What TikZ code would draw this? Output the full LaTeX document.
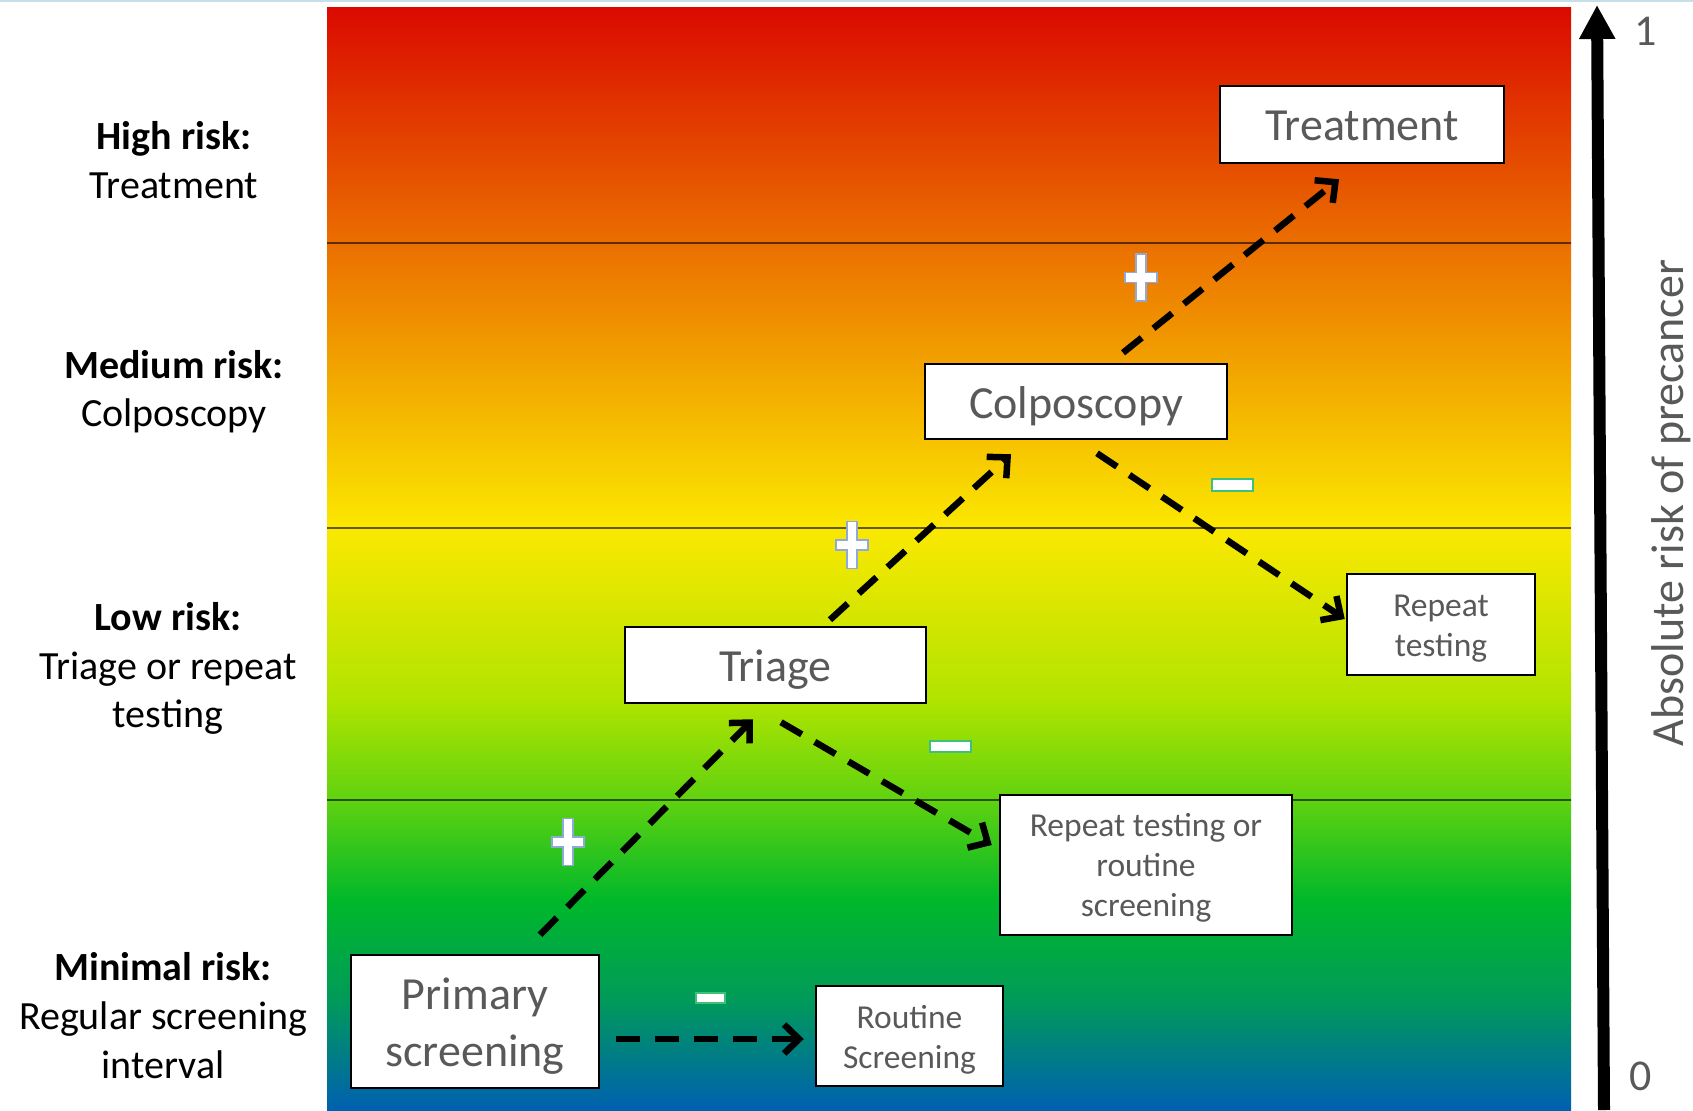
\documentclass[tikz,border=0pt]{standalone}
\usepackage{fontspec}
\setmainfont{Carlito}
\usetikzlibrary{arrows.meta,calc}
\definecolor{txtgray}{HTML}{595959}
\definecolor{plusblue}{HTML}{8FA9D8}
\definecolor{minusgreen}{HTML}{3CC07A}
\definecolor{toplineblue}{HTML}{C5E0EA}
\definecolor{g0}{HTML}{DA0A00}
\definecolor{g1}{HTML}{EB6F00}
\definecolor{g2}{HTML}{FBE800}
\definecolor{g3}{HTML}{B0E400}
\definecolor{g4}{HTML}{60D210}
\definecolor{g5}{HTML}{00B82A}
\definecolor{g6}{HTML}{009A5A}
\definecolor{g7}{HTML}{0060B0}
% lower the printed lines by #1 inside the box (extra room above them)
\newcommand{\bxtext}[2][3.5pt]{\raisebox{0pt}[\dimexpr\height+#1*2\relax][\depth]{\begin{tabular}{@{}c@{}}#2\end{tabular}}}
\begin{document}
\begin{tikzpicture}[x=1pt,y=-1pt,
  box/.style={draw=black,line width=2.5pt,fill=white,inner sep=0pt,text=txtgray},
  bigtxt/.style={font=\fontsize{46}{55}\selectfont},
  smalltxt/.style={font=\fontsize{33.5}{40}\selectfont},
  flow/.style={line width=6.5pt,dash pattern=on 24pt off 15pt,-{Straight Barb[length=15pt,width=29pt]}},
  lbl/.style={align=center,text=black,font=\fontsize{40}{48.6}\selectfont},
  sepline/.style={draw=black,opacity=0.6,line width=1.2pt},
  minussign/.style={fill=white,draw=minusgreen,line width=1.5pt},
  plussign/.pic={\draw[fill=white,draw=plusblue,line width=1.3pt]
    (-16,-5) -- (-5,-5) -- (-5,-23.5) -- (5,-23.5) -- (5,-5) -- (16,-5) -- (16,5)
    -- (5,5) -- (5,23.5) -- (-5,23.5) -- (-5,5) -- (-16,5) -- cycle;}
]
\useasboundingbox (0,0) rectangle (1693,1110);
\fill[white] (0,0) rectangle (1693,1110);
\draw[toplineblue,line width=2pt] (0,1) -- (1693,1);
% background gradient
\shade[top color=g0,bottom color=g1] (327,8) rectangle (1571,243.5);
\shade[top color=g1,bottom color=g2] (327,243) rectangle (1571,528.5);
\shade[top color=g2,bottom color=g3] (327,528) rectangle (1571,700.5);
\shade[top color=g3,bottom color=g4] (327,700) rectangle (1571,800.5);
\shade[top color=g4,bottom color=g5] (327,800) rectangle (1571,900.5);
\shade[top color=g5,bottom color=g6] (327,900) rectangle (1571,1000.5);
\shade[top color=g6,bottom color=g7] (327,1000) rectangle (1571,1110);
\draw[sepline] (327,243) -- (1571,243);
\draw[sepline] (327,528) -- (1571,528);
\draw[sepline] (327,800) -- (1571,800);
% left labels
\node[lbl] (lhigh) at (174,160) {\textbf{High risk:}\\Treatment};
\node[lbl] (lmed) at (174,391.5) {\textbf{Medium risk:}\\Colposcopy};
\node[lbl] (llow) at (168,668.5) {\textbf{Low risk:}\\Triage or repeat\\testing};
\node[lbl] (lmin) at (163,1015.5) {\textbf{Minimal risk:}\\Regular screening\\interval};
% boxes
\node[box,bigtxt,minimum width=284pt,minimum height=77pt] (treat) at (1362,124.5) {\bxtext[5.5pt]{Treatment}};
\node[box,bigtxt,minimum width=302pt,minimum height=75pt] (colp) at (1076,401.5) {\bxtext[5.5pt]{Colposcopy}};
\node[box,bigtxt,minimum width=301pt,minimum height=76pt] (triage) at (775.5,665) {\bxtext[5.5pt]{Triage}};
\node[box,smalltxt,minimum width=188pt,minimum height=101pt] (rep) at (1441,624.5) {\bxtext[3.5pt]{Repeat\\testing}};
\node[box,smalltxt,minimum width=292pt,minimum height=140pt] (reprout) at (1146,865) {\bxtext[3.5pt]{Repeat testing or\\routine\\screening}};
\node[box,font=\fontsize{46}{57}\selectfont,minimum width=248pt,minimum height=133pt] (prim) at (475,1021.5) {\bxtext[5.5pt]{Primary\\screening}};
\node[box,smalltxt,minimum width=187pt,minimum height=100pt] (rout) at (909.5,1036) {\bxtext[4.5pt]{Routine\\Screening}};
% connectors
\draw[flow] ($(prim.north)+(65,-19)$) -- ($(triage.south)+(-22.5,15)$);
\draw[flow] ($(triage.north)+(54.5,-6)$) -- ($(colp.south)+(-65,14)$);
\draw[flow] ($(colp.north)+(47,-10)$) -- ($(treat.south)+(-23,15)$);
\draw[flow] ($(triage.south)+(5.5,18)$) -- ($(reprout.west)+(-7,-20)$);
\draw[flow] ($(colp.south)+(21,13)$) -- ($(rep.west)+(-1,-5.5)$);
\draw[flow] ($(prim.east)+(16,17.5)$) -- ($(rout.west)+(-11,3)$);
% plus and minus signs
\pic at (1141,277.5) {plussign};
\pic at (852,545) {plussign};
\pic at (568,842) {plussign};
\draw[minussign] (1212,479) rectangle (1253,491);
\draw[minussign] (930,741) rectangle (971,752);
\draw[minussign] (696,993) rectangle (725,1003);
% risk axis
\coordinate (axb) at (1604,1110);
\coordinate (axt) at (1597,5);
\draw[line width=12pt,-{Triangle[length=34pt,width=34pt]}] (axb) -- (axt);
\node[text=txtgray,font=\fontsize{44}{50}\selectfont] (one) at (1646,31) {1};
\node[text=txtgray,font=\fontsize{44}{50}\selectfont] (zero) at (1641,1076) {0};
\node[text=txtgray,font=\fontsize{46}{55}\selectfont,rotate=90] (axlbl) at (1671,503) {Absolute risk of precancer};
\end{tikzpicture}
\end{document}
